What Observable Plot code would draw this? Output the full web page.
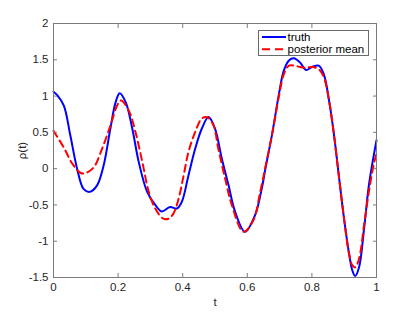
<!DOCTYPE html>
<html>
<head>
<meta charset="utf-8">
<script src="https://cdn.jsdelivr.net/npm/d3@7"></script>
<script src="https://cdn.jsdelivr.net/npm/@observablehq/plot@0.6"></script>
<style>
  html, body { margin: 0; padding: 0; background: #fff; }
  #wrap { position: relative; width: 415px; height: 312px; }
  #legend { position: absolute; left: 0; top: 0; }
</style>
</head>
<body>
<div id="wrap"></div>
<script>
// Data
const truthT = [0, 0.012, 0.032, 0.052, 0.073, 0.093, 0.112, 0.135, 0.155, 0.176, 0.192, 0.205, 0.224, 0.244, 0.264, 0.29, 0.315, 0.335, 0.361, 0.382, 0.397, 0.418, 0.439, 0.459, 0.48, 0.5, 0.521, 0.542, 0.562, 0.593, 0.624, 0.645, 0.656, 0.677, 0.698, 0.713, 0.729, 0.744, 0.764, 0.782, 0.8, 0.821, 0.837, 0.853, 0.868, 0.884, 0.899, 0.915, 0.925, 0.934, 0.946, 0.962, 0.977, 1.0];
const truthV = [1.06, 1.01, 0.87, 0.46, 0.0, -0.28, -0.32, -0.23, 0.04, 0.55, 0.91, 1.04, 0.91, 0.55, 0.09, -0.32, -0.5, -0.59, -0.53, -0.55, -0.46, -0.09, 0.28, 0.55, 0.71, 0.55, 0.14, -0.23, -0.59, -0.87, -0.64, -0.27, 0.0, 0.48, 1.03, 1.35, 1.49, 1.52, 1.46, 1.36, 1.40, 1.42, 1.30, 0.94, 0.48, -0.12, -0.67, -1.17, -1.40, -1.48, -1.36, -0.81, -0.21, 0.39];

const meanT = [0, 0.032, 0.058, 0.084, 0.1, 0.125, 0.15, 0.176, 0.197, 0.209, 0.233, 0.254, 0.275, 0.295, 0.315, 0.34, 0.356, 0.371, 0.387, 0.403, 0.418, 0.439, 0.459, 0.475, 0.495, 0.51, 0.531, 0.552, 0.588, 0.619, 0.64, 0.656, 0.677, 0.698, 0.713, 0.729, 0.745, 0.764, 0.78, 0.8, 0.821, 0.837, 0.853, 0.868, 0.884, 0.899, 0.915, 0.925, 0.934, 0.946, 0.962, 0.977, 0.992, 1.0];
const meanV = [0.52, 0.29, 0.07, -0.06, -0.06, 0.02, 0.27, 0.59, 0.87, 0.94, 0.80, 0.50, 0.09, -0.32, -0.55, -0.69, -0.69, -0.62, -0.42, -0.09, 0.23, 0.51, 0.69, 0.71, 0.60, 0.28, -0.13, -0.5, -0.87, -0.71, -0.32, 0.02, 0.48, 1.0, 1.30, 1.42, 1.42, 1.40, 1.39, 1.40, 1.37, 1.26, 0.94, 0.48, -0.12, -0.67, -1.17, -1.33, -1.36, -1.24, -0.76, -0.30, 0.07, 0.20];

const xTicks = [0, 0.2, 0.4, 0.6, 0.8, 1];
const yTicks = [-1.5, -1, -0.5, 0, 0.5, 1, 1.5, 2];
const seriesNames = ["truth", "posterior mean"];
const seriesColors = ["#0000ff", "#ff0000"];

const truth = truthT.map((t, i) => ({t, v: truthV[i]}));
const mean = meanT.map((t, i) => ({t, v: meanV[i]}));

const axisColor = "#7a7a7a";
const textColor = "#262626";
const fmt = d => String(d);

const chart = Plot.plot({
  width: 415,
  height: 312,
  marginLeft: 53,
  marginRight: 39,
  marginTop: 23,
  marginBottom: 35,
  style: {fontFamily: "'Liberation Sans', Arial, Helvetica, sans-serif", fontSize: "11.5px", color: textColor, background: "#fff"},
  x: {domain: [0, 1]},
  y: {domain: [-1.5, 2]},
  marks: [
    Plot.line(truth, {x: "t", y: "v", stroke: seriesColors[0], strokeWidth: 2, curve: "catmull-rom"}),
    Plot.line(mean, {x: "t", y: "v", stroke: seriesColors[1], strokeWidth: 2, strokeDasharray: "7,4.5", curve: "catmull-rom"}),
    Plot.frame({stroke: axisColor, strokeWidth: 1}),
    // inward tick marks
    Plot.axisX(xTicks, {anchor: "bottom", tickSize: 4, dy: -4, text: null, label: null, stroke: axisColor}),
    Plot.axisX(xTicks, {anchor: "top", tickSize: 4, dy: 4, text: null, label: null, stroke: axisColor}),
    Plot.axisY(yTicks, {anchor: "left", tickSize: 4, dx: 4, text: null, label: null, stroke: axisColor}),
    Plot.axisY(yTicks, {anchor: "right", tickSize: 4, dx: -4, text: null, label: null, stroke: axisColor}),
    // tick labels and axis titles
    Plot.axisX(xTicks, {anchor: "bottom", tickSize: 0, tickPadding: 5, tickFormat: fmt, fill: textColor,
      label: "t", labelAnchor: "center", labelArrow: "none", labelOffset: 28}),
    Plot.axisY(yTicks, {anchor: "left", tickSize: 0, tickPadding: 5, tickFormat: fmt, fill: textColor,
      label: "ρ(t)", labelAnchor: "center", labelArrow: "none", labelOffset: 36})
  ]
});

const wrap = document.getElementById("wrap");
wrap.appendChild(chart);

// Legend overlay (top-right, inside the axes)
const ns = "http://www.w3.org/2000/svg";
const leg = document.createElementNS(ns, "svg");
leg.setAttribute("id", "legend");
leg.setAttribute("width", 415);
leg.setAttribute("height", 312);
leg.style.pointerEvents = "none";
const box = document.createElementNS(ns, "rect");
box.setAttribute("x", 258.5); box.setAttribute("y", 30.5);
box.setAttribute("width", 110); box.setAttribute("height", 25);
box.setAttribute("fill", "#fff"); box.setAttribute("stroke", "#6a6a6a"); box.setAttribute("stroke-width", 1);
leg.appendChild(box);
seriesNames.forEach((name, i) => {
  const cy = 37 + i * 12.3;
  const ln = document.createElementNS(ns, "line");
  ln.setAttribute("x1", 262); ln.setAttribute("x2", 286);
  ln.setAttribute("y1", cy); ln.setAttribute("y2", cy);
  ln.setAttribute("stroke", seriesColors[i]); ln.setAttribute("stroke-width", 2);
  if (i === 1) ln.setAttribute("stroke-dasharray", "8,5");
  leg.appendChild(ln);
  const tx = document.createElementNS(ns, "text");
  tx.setAttribute("x", 287.5); tx.setAttribute("y", cy);
  tx.setAttribute("dy", "0.35em");
  tx.setAttribute("fill", "#000");
  tx.setAttribute("font-family", "'Liberation Sans', Arial, Helvetica, sans-serif");
  tx.setAttribute("font-size", "11.5px");
  tx.textContent = name;
  leg.appendChild(tx);
});
wrap.appendChild(leg);
</script>
</body>
</html>
